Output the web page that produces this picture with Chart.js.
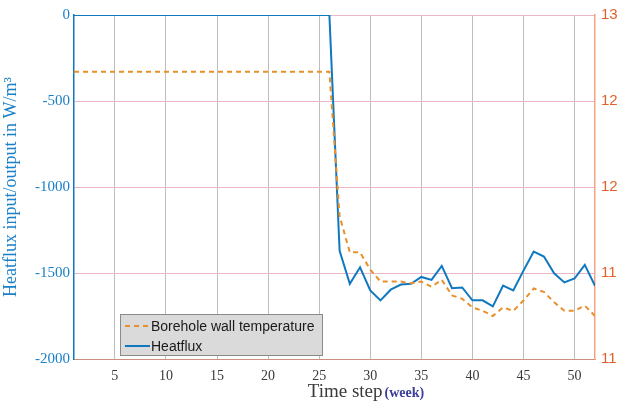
<!DOCTYPE html>
<html>
<head>
<meta charset="utf-8">
<script src="https://cdn.jsdelivr.net/npm/chart.js@4"></script>
<style>
  html, body { margin: 0; padding: 0; background: #fff; }
  #wrap { width: 618px; height: 403px; position: relative; }
</style>
</head>
<body>
<div id="wrap"><canvas id="graph"></canvas></div>
<script>
// weeks 1..52
const weeks = [1, 2, 3, 4, 5, 6, 7, 8, 9, 10, 11, 12, 13, 14, 15, 16, 17, 18, 19, 20, 21, 22, 23, 24, 25, 26,
  27, 28, 29, 30, 31, 32, 33, 34, 35, 36, 37, 38, 39, 40, 41, 42, 43, 44, 45, 46, 47, 48, 49, 50, 51, 52];

// heat flux, W/m^3 (left axis)
const heatflux = [0, 0, 0, 0, 0, 0, 0, 0, 0, 0, 0, 0, 0, 0, 0, 0, 0, 0, 0, 0, 0, 0, 0, 0, 0, 0,
  -1371, -1563, -1467, -1601, -1659, -1597, -1567, -1563, -1523, -1540, -1459, -1588, -1584,
  -1659, -1659, -1694, -1573, -1601, -1486, -1375, -1404, -1502, -1555, -1532, -1453, -1575];

// borehole wall temperature (right axis)
const wallTemp = [12.67, 12.67, 12.67, 12.67, 12.67, 12.67, 12.67, 12.67, 12.67, 12.67, 12.67, 12.67, 12.67,
  12.67, 12.67, 12.67, 12.67, 12.67, 12.67, 12.67, 12.67, 12.67, 12.67, 12.67, 12.67, 12.67,
  11.83, 11.62, 11.62, 11.52, 11.45, 11.45, 11.45, 11.44, 11.45, 11.42, 11.46, 11.37, 11.35,
  11.30, 11.28, 11.25, 11.30, 11.28, 11.34, 11.41, 11.39, 11.33, 11.28, 11.28, 11.31, 11.25];

const xTicks = [5, 10, 15, 20, 25, 30, 35, 40, 45, 50];
const rightTickLabels = ["11", "11", "12", "12", "13"];

const blue = "#0f78c0";
const orange = "#e8902a";

// legend box drawn inside the plot, bottom-left
const boxLegend = {
  id: "boxLegend",
  afterDraw(chart) {
    const ctx = chart.ctx;
    const x = 120, y = 314, w = 202, h = 41;
    ctx.save();
    ctx.fillStyle = "#dadada";
    ctx.strokeStyle = "#8a8a8a";
    ctx.lineWidth = 1;
    ctx.fillRect(x, y, w, h);
    ctx.strokeRect(x + 0.5, y + 0.5, w, h);
    ctx.font = "14px 'Liberation Sans', Arial, sans-serif";
    ctx.textBaseline = "middle";
    chart.data.datasets.forEach((ds, i) => {
      const ly = y + 12 + i * 20;
      ctx.strokeStyle = ds.borderColor;
      ctx.lineWidth = 2;
      ctx.setLineDash(ds.borderDash || []);
      ctx.beginPath();
      ctx.moveTo(x + 5, ly);
      ctx.lineTo(x + 30, ly);
      ctx.stroke();
      ctx.setLineDash([]);
      ctx.fillStyle = "#1a1a1a";
      ctx.fillText(ds.label, x + 31, ly + 1);
    });
    ctx.restore();
  },
};

// x axis title with the smaller bold "(week)"
const xTitle = {
  id: "xTitle",
  afterDraw(chart) {
    const ctx = chart.ctx;
    const cx = (chart.chartArea.left + chart.chartArea.right) / 2 + 48;
    ctx.save();
    ctx.textBaseline = "alphabetic";
    ctx.font = "19px 'Liberation Serif', 'Times New Roman', serif";
    ctx.fillStyle = "#3a3a3a";
    ctx.textAlign = "right";
    ctx.fillText("Time step", cx, 397);
    ctx.font = "bold 14px 'Liberation Serif', 'Times New Roman', serif";
    ctx.fillStyle = "#3b3f9a";
    ctx.textAlign = "left";
    ctx.fillText("(week)", cx + 2, 397);
    ctx.restore();
  },
};

new Chart(document.getElementById("graph"), {
  type: "line",
  data: {
    datasets: [
      {
        label: "Borehole wall temperature",
        data: weeks.map((w, i) => ({ x: w, y: wallTemp[i] })),
        yAxisID: "y2",
        borderColor: orange,
        borderWidth: 2,
        borderDash: [5, 4],
        pointRadius: 0,
        fill: false,
        tension: 0,
      },
      {
        label: "Heatflux",
        data: weeks.map((w, i) => ({ x: w, y: heatflux[i] })),
        yAxisID: "y",
        borderColor: blue,
        borderWidth: 2,
        pointRadius: 0,
        fill: false,
        tension: 0,
      },
    ],
  },
  options: {
    responsive: true,
    maintainAspectRatio: false,
    animation: false,
    layout: { padding: { top: 12, left: 0, right: 0, bottom: 0 } },
    plugins: {
      legend: { display: false },
      tooltip: { enabled: false },
    },
    scales: {
      x: {
        type: "linear",
        min: 1,
        max: 52,
        afterBuildTicks: (s) => { s.ticks = xTicks.map((v) => ({ value: v })); },
        afterFit: (s) => { s.height = 44; },
        grid: { color: "#bdbdbd", drawTicks: false },
        border: { color: "#c9907c", width: 1 },
        ticks: {
          padding: 9,
          color: "#3a3a3a",
          font: { family: "'Liberation Serif', 'Times New Roman', serif", size: 14 },
          maxRotation: 0,
        },
      },
      y: {
        position: "left",
        min: -2000,
        max: 0,
        afterFit: (s) => { s.width = 74; },
        grid: { color: "#e9b6c7", drawTicks: false },
        border: { color: blue, width: 1.5 },
        ticks: {
          stepSize: 500,
          padding: 4,
          color: "#1a80c8",
          font: { family: "'Liberation Serif', 'Times New Roman', serif", size: 15 },
          callback: (v) => String(v),
        },
        title: {
          display: true,
          text: "Heatflux input/output in W/m\u00b3",
          color: "#1a80c8",
          font: { family: "'Liberation Serif', 'Times New Roman', serif", size: 18 },
          padding: { top: 0, bottom: 4 },
        },
      },
      y2: {
        position: "right",
        min: 11,
        max: 13,
        afterFit: (s) => { s.width = 23; },
        grid: { drawOnChartArea: false, drawTicks: false },
        border: { color: "#f3a37f", width: 1.5 },
        ticks: {
          stepSize: 0.5,
          padding: 6,
          color: "#e0622a",
          font: { family: "'Liberation Sans', Arial, sans-serif", size: 15 },
          callback: (v, i) => rightTickLabels[i],
        },
      },
    },
  },
  plugins: [boxLegend, xTitle],
});
</script>
</body>
</html>
